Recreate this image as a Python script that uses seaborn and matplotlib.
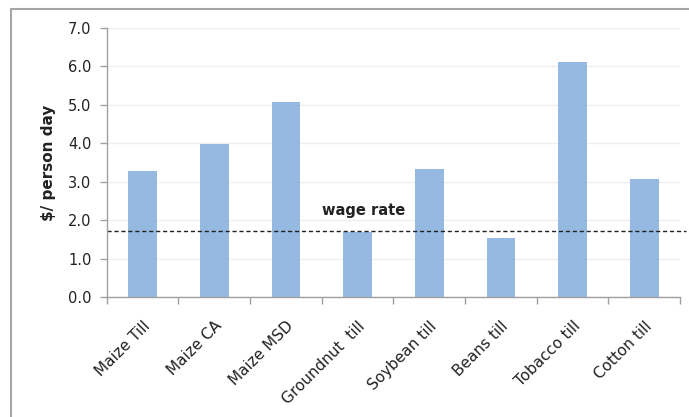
import matplotlib
matplotlib.use("Agg")
import matplotlib.pyplot as plt
import seaborn as sns
import pandas as pd
from matplotlib.patches import Rectangle

categories = ["Maize Till", "Maize CA", "Maize MSD", "Groundnut  till",
              "Soybean till", "Beans till", "Tobacco till", "Cotton till"]
values = [3.28, 3.99, 5.08, 1.70, 3.34, 1.55, 6.12, 3.08]
wage_rate = 1.72
y_ticks = [0.0, 1.0, 2.0, 3.0, 4.0, 5.0, 6.0, 7.0]

sns.set_theme(style="white")
plt.rcParams["font.family"] = ["DejaVu Sans"]

df = pd.DataFrame({"crop": categories, "value": values})

fig = plt.figure(figsize=(6.89, 4.17), dpi=100)
ax = fig.add_axes([0.155, 0.2866, 0.832, 0.6464])

sns.barplot(data=df, x="crop", y="value", color="#95B9E0", saturation=1,
            width=0.4, ax=ax, edgecolor="none")

ax.set_xlim(-0.5, len(categories) - 0.5)
ax.set_ylim(0, 7.0)
ax.set_yticks(y_ticks)
ax.set_yticklabels([f"{v:.1f}" for v in y_ticks], fontsize=10.5, color="#222222")
ax.yaxis.grid(True, color="#eeeef4", linewidth=1)
ax.set_axisbelow(True)

ax.set_xticks(range(len(categories)))
ax.set_xticklabels(categories, rotation=45, ha="right", rotation_mode="anchor",
                   fontsize=11, color="#222222")
ax.tick_params(axis="x", which="major", length=0, pad=15)
ax.set_xticks([i - 0.5 for i in range(len(categories) + 1)], minor=True)
ax.tick_params(axis="x", which="minor", length=5, color="#a0a0a0", width=1, direction="out", bottom=True)
ax.tick_params(axis="y", length=5, color="#a0a0a0", width=1, direction="out", left=True, pad=6)

for s in ["top", "right"]:
    ax.spines[s].set_visible(False)
for s in ["left", "bottom"]:
    ax.spines[s].set_color("#a0a0a0")
    ax.spines[s].set_linewidth(1)

ax.set_xlabel("")
ax.set_ylabel("$/ person day", fontsize=11, fontweight="bold", color="#222222", labelpad=9)

ax.axhline(wage_rate, xmin=0, xmax=1.01, color="#222222", linestyle=(0, (3, 2)),
           linewidth=1, clip_on=False)
ax.text(2.5, 2.27, "wage rate", fontsize=10.5, fontweight="bold", color="#222222",
        ha="left", va="center")

fig.patches.append(Rectangle((10.5 / 689, -0.1), 1.0, 1 - 8.5 / 417 + 0.1,
                             transform=fig.transFigure, fill=False,
                             edgecolor="#a6a6a6", linewidth=1.5, zorder=0))

fig.savefig("out.png", dpi=100)
